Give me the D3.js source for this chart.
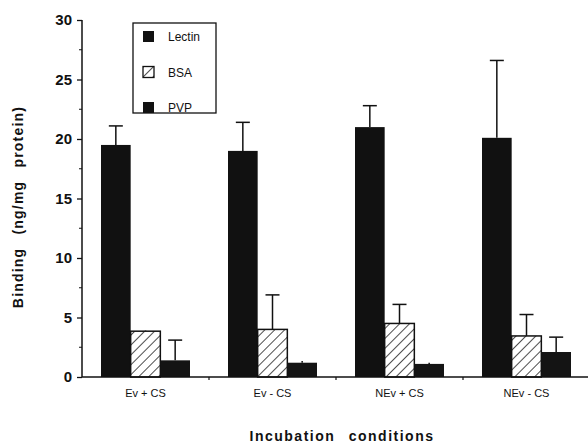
<!DOCTYPE html>
<html>
<head>
	<meta charset="utf-8">
	<script src="https://cdn.jsdelivr.net/npm/d3@7"></script>
	<style>
		html, body { margin: 0; padding: 0; background: #fff; }
		text { font-family: Arial, "Liberation Sans", sans-serif; fill: #111; }
		.ytick text { font-size: 15px; font-weight: bold; }
		.xlab { font-size: 11px; }
		.leg { font-size: 12px; }
		.title { font-size: 14px; font-weight: bold; }
	</style>
</head>
<body>
<div id="chart"></div>
<script>
	// values
	var conditions = ["Ev + CS", "Ev - CS", "NEv + CS", "NEv - CS"];
	var series = ["Lectin", "BSA", "PVP"];
	var lectin = [19.5, 19.0, 21.0, 20.1];
	var lectinErr = [1.6, 2.4, 1.8, 6.5];
	var bsa = [3.85, 4.0, 4.5, 3.45];
	var bsaErr = [0.05, 2.9, 1.6, 1.8];
	var pvp = [1.4, 1.2, 1.1, 2.1];
	var pvpErr = [1.7, 0.15, 0.1, 1.25];
	var yTicks = [0, 5, 10, 15, 20, 25, 30];

	var W = 588, H = 444;
	var svg = d3.select('#chart').append('svg').attr('width', W).attr('height', H);

	var defs = svg.append('defs');
	var pat = defs.append('pattern').attr('id', 'hatch')
		.attr('patternUnits', 'userSpaceOnUse')
		.attr('width', 7).attr('height', 7)
		.attr('patternTransform', 'rotate(45)');
	pat.append('rect').attr('width', 7).attr('height', 7).attr('fill', '#fff');
	pat.append('line').attr('x1', 0).attr('y1', 0).attr('x2', 0).attr('y2', 7)
		.attr('stroke', '#111').attr('stroke-width', 1.5);

	var x = d3.scaleBand().domain(conditions).range([82, 590]).padding(0);
	var xi = d3.scaleBand().domain(series).range([19, 108]).padding(0);
	var y = d3.scaleLinear().domain([0, 30]).range([377, 20]);

	var vals = { Lectin: lectin, BSA: bsa, PVP: pvp };
	var errs = { Lectin: lectinErr, BSA: bsaErr, PVP: pvpErr };
	var fills = { Lectin: '#111', BSA: 'url(#hatch)', PVP: '#141414' };

	var data = [];
	conditions.forEach(function(c, i) {
		series.forEach(function(s) {
			data.push({ c: c, s: s, v: vals[s][i], e: errs[s][i] });
		});
	});

	// error bars (drawn first so the bar covers the stem base)
	var eb = svg.append('g').attr('stroke', '#111').attr('stroke-width', 1.5);
	eb.selectAll('line.stem').data(data).enter().append('line')
		.attr('class', 'stem')
		.attr('x1', function(d) { return x(d.c) + xi(d.s) + xi.bandwidth() / 2; })
		.attr('x2', function(d) { return x(d.c) + xi(d.s) + xi.bandwidth() / 2; })
		.attr('y1', function(d) { return y(d.v); })
		.attr('y2', function(d) { return y(d.v + d.e); });
	eb.selectAll('line.cap').data(data.filter(function(d) { return d.e > 0.2; })).enter().append('line')
		.attr('class', 'cap')
		.attr('x1', function(d) { return x(d.c) + xi(d.s) + xi.bandwidth() / 2 - 7; })
		.attr('x2', function(d) { return x(d.c) + xi(d.s) + xi.bandwidth() / 2 + 7; })
		.attr('y1', function(d) { return y(d.v + d.e); })
		.attr('y2', function(d) { return y(d.v + d.e); });

	// bars
	svg.append('g').selectAll('rect').data(data).enter().append('rect')
		.attr('x', function(d) { return x(d.c) + xi(d.s); })
		.attr('y', function(d) { return y(d.v); })
		.attr('width', xi.bandwidth())
		.attr('height', function(d) { return y(0) - y(d.v); })
		.attr('fill', function(d) { return fills[d.s]; })
		.attr('stroke', '#111')
		.attr('stroke-width', function(d) { return d.s == 'BSA' ? 1.5 : 0; });

	// y axis
	var yAxis = svg.append('g').attr('class', 'ytick').attr('transform', 'translate(82,0)')
		.call(d3.axisLeft(y).tickValues(yTicks).tickSize(5).tickPadding(5));
	yAxis.select('.domain').attr('stroke', '#111').attr('stroke-width', 1.5).attr('d', 'M0,' + y(30) + 'V' + y(0));
	yAxis.selectAll('.tick line').attr('stroke', '#111').attr('stroke-width', 1.3);
	svg.append('g').selectAll('line').data(d3.range(2.5, 30, 5)).enter().append('line')
		.attr('x1', 79).attr('x2', 82)
		.attr('y1', function(d) { return y(d); }).attr('y2', function(d) { return y(d); })
		.attr('stroke', '#111').attr('stroke-width', 1);

	// x axis
	svg.append('line').attr('x1', 82).attr('x2', 588).attr('y1', y(0)).attr('y2', y(0))
		.attr('stroke', '#111').attr('stroke-width', 1.5);
	svg.append('g').selectAll('line').data(conditions.slice(1)).enter().append('line')
		.attr('x1', function(d) { return x(d); }).attr('x2', function(d) { return x(d); })
		.attr('y1', y(0)).attr('y2', y(0) + 3)
		.attr('stroke', '#111').attr('stroke-width', 1.2);
	svg.append('g').selectAll('text').data(conditions).enter().append('text')
		.attr('class', 'xlab')
		.attr('x', function(d) { return x(d) + xi(series[1]) + xi.bandwidth() / 2; })
		.attr('y', 397)
		.attr('text-anchor', 'middle')
		.text(function(d) { return d; });

	// titles
	svg.append('text').attr('class', 'title')
		.attr('x', 342).attr('y', 441)
		.attr('text-anchor', 'middle')
		.attr('letter-spacing', 1.5).attr('word-spacing', 8)
		.text('Incubation conditions');
	svg.append('text').attr('class', 'title')
		.attr('transform', 'translate(23,' + 207 + ') rotate(-90)')
		.attr('text-anchor', 'middle')
		.attr('letter-spacing', 1.2).attr('word-spacing', 8)
		.text('Binding (ng/mg protein)');

	// legend
	var leg = svg.append('g').attr('transform', 'translate(133,23)');
	leg.append('rect').attr('width', 83).attr('height', 90)
		.attr('fill', '#fff').attr('stroke', '#111').attr('stroke-width', 1.3);
	var li = leg.selectAll('g').data(series).enter().append('g')
		.attr('transform', function(d, i) { return 'translate(10,' + (8 + i * 35.5) + ')'; });
	li.append('rect').attr('width', 11).attr('height', 11)
		.attr('fill', function(d) { return d == 'BSA' ? 'url(#hatch)' : '#111'; })
		.attr('stroke', '#111').attr('stroke-width', function(d) { return d == 'BSA' ? 1.3 : 0; });
	li.append('text').attr('class', 'leg').attr('x', 25).attr('y', 10).text(function(d) { return d; });
</script>
</body>
</html>
